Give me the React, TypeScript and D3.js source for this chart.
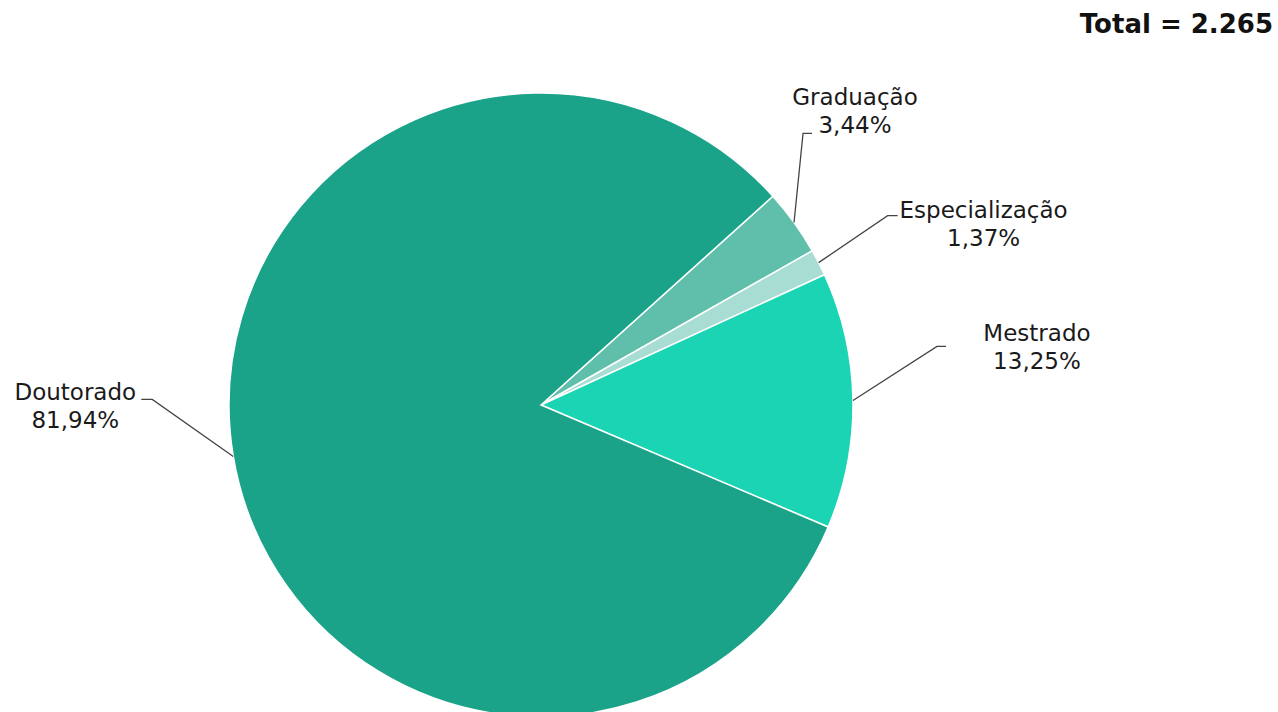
import React from "react";
import * as d3 from "d3";

// Chart values
const categories = ["Graduação", "Especialização", "Mestrado", "Doutorado"];
const shares = [3.44, 1.37, 13.25, 81.94];
const sliceColors = ["#5fbfab", "#a7ddd2", "#1bd4b4", "#1ba38a"];
const totalLabel = "Total = 2.265";

// label placement, offsets from the slice's outer edge point
const labelLayout: Record<string, { ex: number; ey: number; tail: number; tx: number; ty: number }> = {
  "Graduação": { ex: 9, ey: -89, tail: 9, tx: 61, ty: -117 },
  "Especialização": { ex: 69, ey: -47, tail: 10, tx: 165, ty: -45 },
  "Mestrado": { ex: 84, ey: -54, tail: 9, tx: 184, ty: -59 },
  "Doutorado": { ex: -81, ey: -57, tail: -11, tx: -158, ty: -56 },
};

const width = 1278;
const height = 712;
const cx = 541;
const cy = 405;
const radius = 312;

const fmt = (v: number) => v.toFixed(2).replace(".", ",") + "%";

export default function App() {
  const rows = categories.map((c, i) => ({ name: c, value: shares[i], color: sliceColors[i] }));

  const pie = d3
    .pie<(typeof rows)[number]>()
    .sort(null)
    .value((d) => d.value)
    .startAngle((48 * Math.PI) / 180)
    .endAngle((48 * Math.PI) / 180 + 2 * Math.PI);

  const arcs = pie(rows);
  const arc = d3.arc<d3.PieArcDatum<(typeof rows)[number]>>().innerRadius(0).outerRadius(radius);

  return (
    <svg
      width={width}
      height={height}
      style={{ position: "fixed", left: 0, top: 0, background: "#fff", fontFamily: "'DejaVu Sans', Verdana, sans-serif" }}
    >
      <text x={1273} y={33} textAnchor="end" fontWeight="bold" fontSize={26} fill="#111">
        {totalLabel}
      </text>
      <g transform={`translate(${cx},${cy})`}>
        {arcs.map((a) => (
          <path key={a.data.name} d={arc(a) || ""} fill={a.data.color} stroke="#fff" strokeWidth={1.5} />
        ))}
        {arcs.map((a) => {
          const mid = (a.startAngle + a.endAngle) / 2;
          const px = radius * Math.sin(mid);
          const py = -radius * Math.cos(mid);
          const l = labelLayout[a.data.name];
          const elx = px + l.ex;
          const ely = py + l.ey;
          return (
            <g key={"lbl-" + a.data.name}>
              <polyline
                points={`${px},${py} ${elx},${ely} ${elx + l.tail},${ely}`}
                fill="none"
                stroke="#444"
                strokeWidth={1.3}
              />
              <text x={px + l.tx} y={py + l.ty} textAnchor="middle" fontSize={23} fill="#1a1a1a">
                {a.data.name}
              </text>
              <text x={px + l.tx} y={py + l.ty + 28} textAnchor="middle" fontSize={23} fill="#1a1a1a">
                {fmt(a.data.value)}
              </text>
            </g>
          );
        })}
      </g>
    </svg>
  );
}
